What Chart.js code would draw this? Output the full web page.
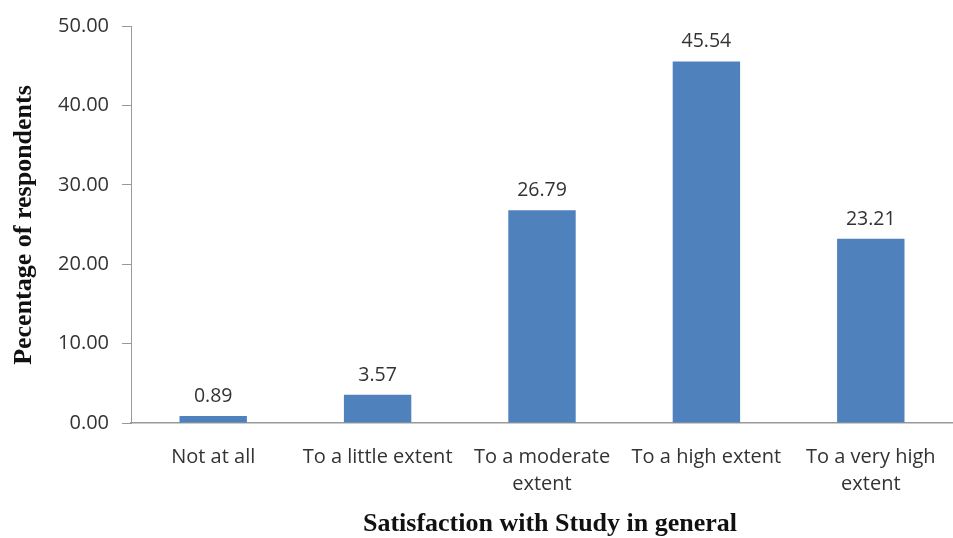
<!DOCTYPE html>
<html><head><meta charset="utf-8">
<script src="https://cdn.jsdelivr.net/npm/chart.js@4/dist/chart.umd.min.js"></script>
<style>html,body{margin:0;padding:0;background:#fff}#wrap{width:953px;height:538px}</style>
</head><body><div id="wrap"><canvas id="c" width="953" height="538"></canvas></div>
<script>
const categories = [["Not at all"], ["To a little extent"], ["To a moderate", "extent"], ["To a high extent"], ["To a very high", "extent"]];
const values = [0.89, 3.57, 26.79, 45.54, 23.21];
const yTicks = [0, 10, 20, 30, 40, 50];
const yTitle = "Pecentage of respondents";
const xTitle = "Satisfaction with Study in general";

const labelPlugin = {
  id: 'vlabels',
  afterDatasetsDraw(chart) {
    const ctx = chart.ctx;
    const meta = chart.getDatasetMeta(0);
    ctx.save();
    ctx.font = '19.5px "Open Sans", sans-serif';
    ctx.fillStyle = '#333';
    ctx.textAlign = 'center';
    ctx.textBaseline = 'alphabetic';
    meta.data.forEach((bar, i) => {
      ctx.fillText(values[i].toFixed(2), bar.x, bar.y - 14);
    });
    ctx.restore();
  }
};
const titlePlugin = {
  id: 'titles',
  afterDraw(chart) {
    const ctx = chart.ctx;
    ctx.save();
    ctx.font = 'bold 26px "Liberation Serif", serif';
    ctx.fillStyle = '#111';
    ctx.textAlign = 'center';
    ctx.textBaseline = 'middle';
    ctx.fillText(xTitle, 550, 524);
    ctx.translate(24, 225);
    ctx.rotate(-Math.PI / 2);
    ctx.fillText(yTitle, 0, 0);
    ctx.restore();
  }
};

new Chart(document.getElementById('c'), {
  type: 'bar',
  data: {
    labels: categories,
    datasets: [{ data: values, backgroundColor: '#4F81BD', barPercentage: 0.41, categoryPercentage: 1 }]
  },
  options: {
    responsive: false,
    animation: false,
    layout: { padding: { top: 26, right: 0, left: 0, bottom: 0 } },
    plugins: { legend: { display: false }, tooltip: { enabled: false } },
    scales: {
      x: {
        grid: { display: false },
        border: { display: true, color: '#999', width: 1.5 },
        ticks: { color: '#333', font: { family: '"Open Sans", sans-serif', size: 20, lineHeight: 1.35 }, maxRotation: 0, padding: 13 },
        afterFit(s) { s.height = 538 - 26 - 397; }
      },
      y: {
        min: 0, max: 50,
        afterBuildTicks(s) { s.ticks = yTicks.map(v => ({ value: v })); },
        grid: { drawOnChartArea: false, drawTicks: true, tickLength: 9, color: '#999' },
        border: { display: true, color: '#999', width: 1 },
        ticks: { color: '#333', font: { family: '"Open Sans", sans-serif', size: 20 }, padding: 13, callback: v => v.toFixed(2) },
        afterFit(s) { s.width = 131; }
      }
    }
  },
  plugins: [labelPlugin, titlePlugin]
});
</script>
</body></html>
